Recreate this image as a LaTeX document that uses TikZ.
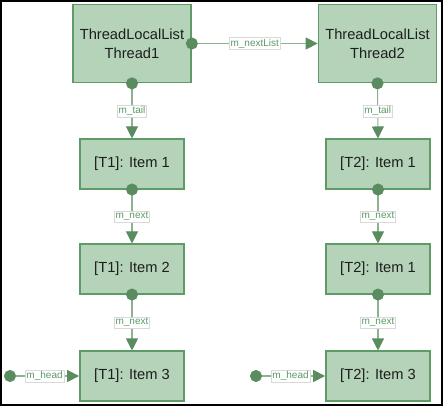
\documentclass[tikz,border=0pt]{standalone}
\usepackage{fontspec}
\setmainfont{Liberation Sans}
\usetikzlibrary{arrows.meta}
\definecolor{boxfill}{HTML}{B4D3B9}
\definecolor{boxline}{HTML}{5F9B67}
\definecolor{linkline}{HTML}{8DB191}
\definecolor{tipgreen}{HTML}{5A8C60}
\definecolor{taggreen}{HTML}{5A9A64}
\definecolor{tagline}{HTML}{D9D9D9}
\definecolor{boxtext}{HTML}{1E1E1E}

\begin{document}
\begin{tikzpicture}[x=0.75pt,y=-0.75pt]
        \tikzstyle{every node}=[font=\fontsize{11}{14}\selectfont]
        \tikzstyle{listbox}=[draw=boxline, fill=boxfill, line width=1.3pt, text=boxtext,
            align=center, minimum width=88.5pt, minimum height=58.5pt, inner sep=0pt]
        \tikzstyle{itembox}=[listbox, minimum width=78pt, minimum height=37pt]
        \tikzstyle{link}=[draw=linkline, line width=0.8pt, shorten <=-4.5pt,
            {Circle[length=9pt,color=tipgreen]}-{Triangle[length=9pt,width=9pt,color=tipgreen]}]
        \tikzstyle{tag}=[draw=tagline, fill=white, line width=0.4pt, text=taggreen,
            font=\fontsize{7.5}{9}\selectfont, inner sep=1pt]
        \useasboundingbox (0,0) rectangle (443,406);
        \draw[line width=1.2pt] (0.8,0.8) rectangle (442.2,405.2);
        % thread 1
        \node[listbox] (list1) at (132,43.5) {ThreadLocalList\\Thread1};
        \node[itembox] (t1item1) at (132,164) {[T1]: Item 1};
        \node[itembox] (t1item2) at (132,269) {[T1]: Item 2};
        \node[itembox] (t1item3) at (132,376) {[T1]: Item 3};
        % thread 2
        \node[listbox] (list2) at (377.5,43.5) {ThreadLocalList\\Thread2};
        \node[itembox] (t2item1) at (378,164) {[T2]: Item 1};
        \node[itembox] (t2item2) at (378,269) {[T2]: Item 1};
        \node[itembox] (t2item3) at (378,376) {[T2]: Item 3};
        \coordinate (head1) at (10,376);
        \coordinate (head2) at (256,376);
        % links
        \draw[link] (list1.east) -- node[tag] {m\_nextList} (list2.west);
        \draw[link] (list1.south) -- node[tag] {m\_tail} (t1item1.north);
        \draw[link] (t1item1.south) -- node[tag] {m\_next} (t1item2.north);
        \draw[link] (t1item2.south) -- node[tag] {m\_next} (t1item3.north);
        \draw[link] (head1) -- node[tag] {m\_head} (t1item3.west);
        \draw[link] (list2.south) -- node[tag] {m\_tail} (t2item1.north);
        \draw[link] (t2item1.south) -- node[tag] {m\_next} (t2item2.north);
        \draw[link] (t2item2.south) -- node[tag] {m\_next} (t2item3.north);
        \draw[link] (head2) -- node[tag] {m\_head} (t2item3.west);
    \end{tikzpicture}
\end{document}
